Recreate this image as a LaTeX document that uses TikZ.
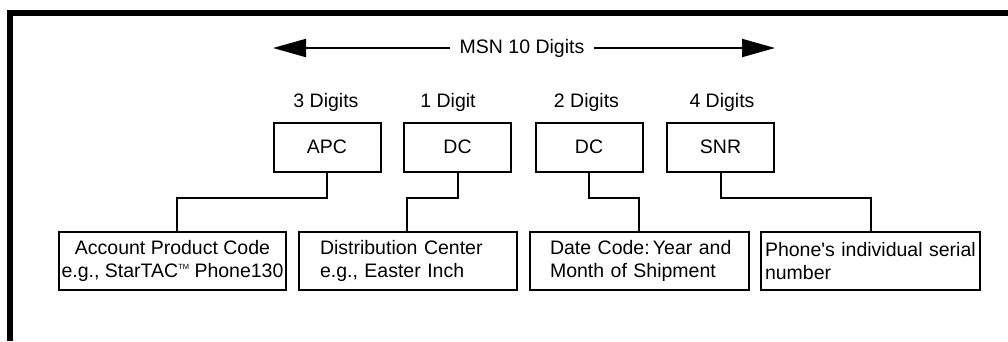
\documentclass[tikz,border=0pt]{standalone}
\usepackage{fontspec}
\setmainfont{Liberation Sans}[Ligatures=TeXOff]
\usetikzlibrary{arrows.meta}
\begin{document}
\begin{tikzpicture}[x=1pt,y=-1pt,
  every node/.style={font=\fontsize{19.5}{22.5}\selectfont},
  digitbox/.style={draw,line width=2pt,minimum width=107pt,minimum height=49pt,inner sep=0pt},
  infobox/.style={draw,line width=2pt,minimum height=58pt,inner ysep=0pt},
  lbl/.style={anchor=base,inner sep=0pt},
  conn/.style={line width=2pt},
  frameline/.style={line width=6pt}]
\useasboundingbox (0,0) rectangle (1008,341);
\draw[frameline] (1008,13) -- (10,13) -- (10,341);
% MSN arrow
\node[inner xsep=9pt,inner ysep=0pt] (msn) at (522,48) {MSN 10 Digits};
\coordinate (la) at (273,48);
\coordinate (ra) at (775,48);
\draw[conn,-{Triangle[length=33pt,width=18pt]}] (msn.west) -- (la);
\draw[conn,-{Triangle[length=33pt,width=18pt]}] (msn.east) -- (ra);
% digit labels
\node[lbl] (d3) at (326,107.5) {3 Digits};
\node[lbl] (d1) at (448,107.5) {1 Digit};
\node[lbl] (d2) at (586.5,107.5) {2 Digits};
\node[lbl] (d4) at (722,107.5) {4 Digits};
% code boxes
\node[digitbox] (apc) at (327,147) {APC};
\node[digitbox] (dc1) at (457.5,147) {DC};
\node[digitbox] (dc2) at (589,147) {DC};
\node[digitbox] (snr) at (720.5,147) {SNR};
% description boxes
\node[infobox,minimum width=227pt,inner xsep=0pt,align=center] (b1) at (172.5,261)
  {Account Product Code\\e.g., StarTAC{\fontsize{7.5}{7.5}\selectfont\raisebox{8pt}{TM}} Phone130};
\node[infobox,text width=176pt,inner xsep=21pt,align=left] (b2) at (408,261)
  {Distribution Center\\e.g., Easter Inch};
\node[infobox,text width=179pt,inner xsep=20pt,align=left] (b3) at (639.5,261)
  {\mbox{Date Code:\,Year and}\\Month of Shipment};
\node[infobox,text width=211pt,inner xsep=4pt,align=left] (b4) at (870.5,261)
  {\mbox{Phone's individual serial}\\number};
% connectors
\coordinate (k1) at (177,197.5);
\coordinate (k2) at (407,197.5);
\coordinate (k3) at (639,197.5);
\coordinate (k4) at (871,197.5);
\draw[conn] (apc.south) |- (k1) -- (k1 |- b1.north);
\draw[conn] (dc1.south) |- (k2) -- (k2 |- b2.north);
\draw[conn] (dc2.south) |- (k3) -- (k3 |- b3.north);
\draw[conn] (snr.south) |- (k4) -- (k4 |- b4.north);
\end{tikzpicture}
\end{document}
